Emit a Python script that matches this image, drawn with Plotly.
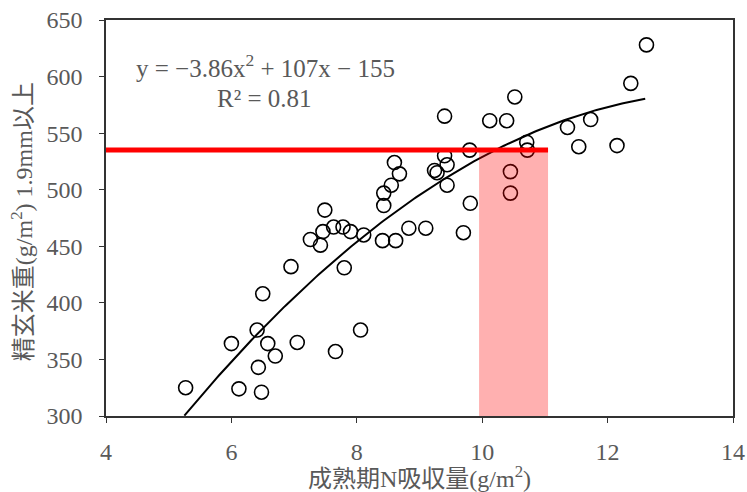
import numpy as np
import plotly.graph_objects as go

n_uptake = [5.27, 6.00, 6.12, 6.41, 6.43, 6.48, 6.50, 6.58, 6.70, 6.95,
            7.05, 7.26, 7.42, 7.46, 7.49, 7.63, 7.66, 7.78, 7.80, 7.90,
            8.06, 8.11, 8.41, 8.43, 8.43, 8.55, 8.60, 8.62, 8.68, 8.83,
            9.10, 9.24, 9.28, 9.40, 9.40, 9.44, 9.44, 9.70, 9.81, 9.80,
            10.12, 10.39, 10.45, 10.45, 10.52, 10.71, 10.72, 11.36, 11.54, 11.73,
            12.15, 12.37, 12.62]
grain_wt = [325, 364, 324, 376, 343, 321, 408, 364, 353, 432,
            365, 456, 451, 463, 482, 467, 357, 467, 431, 463,
            376, 460, 455, 486, 497, 504, 524, 455, 514, 466,
            466, 517, 515, 530, 565, 522, 504, 462, 488, 535,
            561, 561, 516, 497, 582, 542, 535, 555, 538, 562,
            539, 594, 628]

# Fitted quadratic trendline (coefficients shown on the chart)
fit_coef = [-3.86, 107.0, -155.0]
fit_range = [5.25, 12.6]

# Target level and highlighted range
target_y = [535]
target_x = [9.95, 11.05]

x_ticks = [4, 6, 8, 10, 12, 14]
y_ticks = [300, 350, 400, 450, 500, 550, 600, 650]

xf = np.linspace(fit_range[0], fit_range[1], 200)
yf = np.polyval(fit_coef, xf)

FONT = "Liberation Serif, Noto Sans CJK JP, serif"
GRAY = "#595959"

fig = go.Figure()
fig.add_trace(go.Scatter(x=xf, y=yf, mode="lines",
                         line=dict(color="black", width=2), hoverinfo="skip",
                         showlegend=False))
fig.add_trace(go.Scatter(x=n_uptake, y=grain_wt, mode="markers",
                         marker=dict(symbol="circle-open", size=14,
                                     color="black", line=dict(width=1.6)),
                         showlegend=False))

fig.add_shape(type="rect", xref="x", yref="y",
              x0=target_x[0], x1=target_x[1], y0=300, y1=target_y[0],
              fillcolor="rgba(255,0,0,0.31)", line=dict(width=0), layer="above")
fig.add_shape(type="line", xref="x", yref="y",
              x0=4, x1=target_x[1], y0=target_y[0], y1=target_y[0],
              line=dict(color="#ff0000", width=5), layer="above")

fig.add_annotation(x=0.2536, y=0.884, xref="paper", yref="paper",
                   xanchor="center", yanchor="middle",
                   text="y = −3.86x<sup>2</sup> + 107x − 155",
                   showarrow=False, font=dict(family=FONT, size=25, color=GRAY))
fig.add_annotation(x=0.252, y=0.803, xref="paper", yref="paper",
                   xanchor="center", yanchor="middle",
                   text="R² = 0.81",
                   showarrow=False, font=dict(family=FONT, size=25, color=GRAY))

# Axis titles
fig.add_annotation(x=0.5, y=-0.154, xref="paper", yref="paper",
                   xanchor="center", yanchor="middle",
                   text="成熟期N吸収量(g/m<sup>2</sup>)",
                   showarrow=False, font=dict(family=FONT, size=24, color=GRAY))
fig.add_annotation(x=-0.134, y=0.492, xref="paper", yref="paper",
                   xanchor="center", yanchor="middle", textangle=-90,
                   text="精玄米重(g/m<sup>2</sup>) 1.9mm以上",
                   showarrow=False, font=dict(family=FONT, size=24, color=GRAY))

fig.update_xaxes(range=[4, 14], tickvals=x_ticks, ticks="outside", ticklen=5,
                 tickcolor="#333", showline=True, linecolor="#333", linewidth=1.5,
                 mirror=True, showgrid=False, zeroline=False, automargin=False,
                 ticklabelstandoff=8,
                 tickfont=dict(family=FONT, size=24, color=GRAY))
fig.update_yaxes(range=[300, 650], tickvals=y_ticks, ticks="outside", ticklen=5,
                 tickcolor="#333", showline=True, linecolor="#333", linewidth=1.5,
                 mirror=True, showgrid=False, zeroline=False, automargin=False,
                 ticklabelstandoff=12,
                 tickfont=dict(family=FONT, size=24, color=GRAY))

fig.update_layout(width=747, height=492, margin=dict(l=106, r=14, t=20, b=76),
                  plot_bgcolor="white", paper_bgcolor="white")

fig.write_html("out.html", config={"displayModeBar": False},
               post_script="document.body.style.margin='0';document.body.style.padding='0';")
